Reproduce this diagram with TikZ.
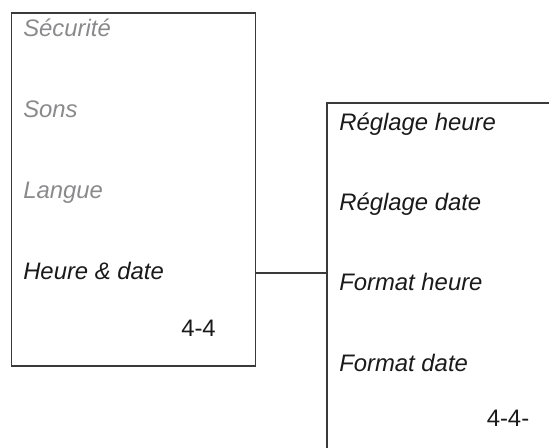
\documentclass[tikz,border=0pt]{standalone}
\usepackage{fontspec}
\setmainfont{Liberation Sans}
\definecolor{greytext}{HTML}{8A8A8C}
\definecolor{darktext}{HTML}{1A1A1A}
\definecolor{boxline}{HTML}{3A3A3A}
\begin{document}
\begin{tikzpicture}[x=0.75pt,y=-0.75pt,
  menubox/.style={draw=boxline,line width=1pt,inner sep=0pt},
  greyitem/.style={anchor=base west,inner sep=0pt,text=greytext,font=\fontsize{17.9pt}{20pt}\selectfont\itshape},
  item/.style={anchor=base west,inner sep=0pt,text=darktext,font=\fontsize{17.9pt}{20pt}\selectfont\itshape},
  pageref/.style={anchor=base west,inner sep=0pt,text=darktext,font=\fontsize{17.9pt}{20pt}\selectfont},
  link/.style={draw=boxline,line width=1pt}]
\useasboundingbox (0,0) rectangle (549,447);
\clip (0,0) rectangle (549,447);
\node[menubox,minimum width=244.5pt*0.75,minimum height=353pt*0.75] (L) at (133.5,189.5) {};
\node[menubox,minimum width=300pt*0.75,minimum height=400pt*0.75] (R) at (477,303) {};
\node[greyitem] (s1) at (23,36) {Sécurité};
\node[greyitem] (s2) at (23,117) {Sons};
\node[greyitem] (s3) at (23,198) {Langue};
\node[item] (hd) at (23,279) {Heure \& date};
\node[pageref] (p1) at (181,336.5) {4-4};
\node[item] (r1) at (339,130) {Réglage heure};
\node[item] (r2) at (339,210) {Réglage date};
\node[item] (r3) at (339,290.5) {Format heure};
\node[item] (r4) at (339,371) {Format date};
\node[pageref] (p2) at (486.5,426.5) {4-4-};
\draw[link] (L.east |- 0,273) -- (R.west |- 0,273);
\end{tikzpicture}
\end{document}
